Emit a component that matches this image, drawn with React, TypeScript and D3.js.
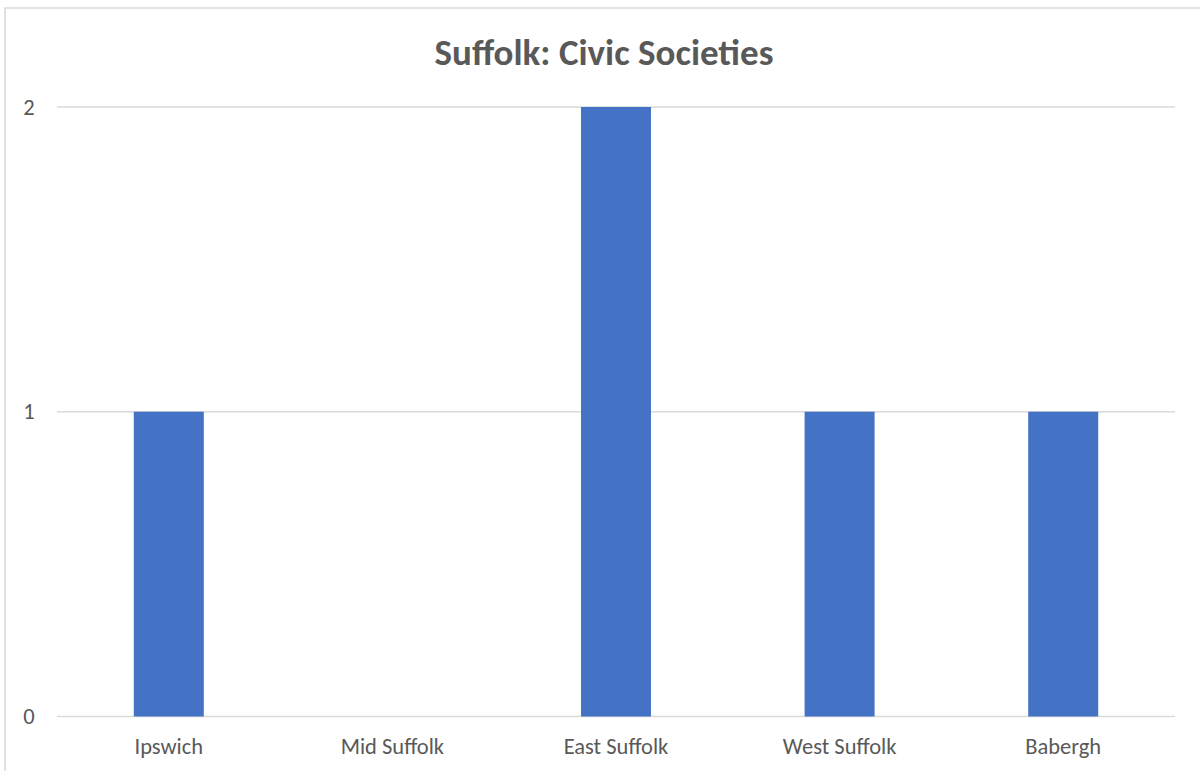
import React from 'react';
import * as d3 from 'd3';

const categories = ['Ipswich', 'Mid Suffolk', 'East Suffolk', 'West Suffolk', 'Babergh'];
const values = [1, 0, 2, 1, 1];
const yTicks = [0, 1, 2];
const title = 'Suffolk: Civic Societies';

export default function App() {
  const W = 1200, H = 771;
  const left = 57, right = 1175, top = 107, bottom = 716.5;
  const x = d3.scaleBand<string>().domain(categories).range([left, right]).padding(0);
  const y = d3.scaleLinear().domain([0, 2]).range([bottom, top]);
  const barW = x.bandwidth() * 0.313;
  const font = 'Carlito, Lato, sans-serif';
  return (
    <svg width={W} height={H} style={{ position: 'absolute', left: 0, top: 0, background: '#fff' }}>
      <rect x={5} y={8} width={W + 10} height={H + 10} fill="#fff" stroke="#d9d9d9" strokeWidth={1.5} />
      <text x={604} y={65} textAnchor="middle" fontFamily={font} fontWeight="bold" fontSize={37} fill="#595959">{title}</text>
      {yTicks.map(t => (
        <g key={t}>
          <line x1={left} x2={right} y1={y(t)} y2={y(t)} stroke="#d9d9d9" strokeWidth={1.5} />
          <text x={29} y={y(t) + 7.5} textAnchor="middle" fontFamily={font} fontSize={22.5} fill="#595959">{t}</text>
        </g>
      ))}
      {categories.map((c, i) => {
        const cx = (x(c) as number) + x.bandwidth() / 2;
        return (
          <g key={c}>
            {values[i] > 0 && (
              <rect x={cx - barW / 2} y={y(values[i])} width={barW} height={y(0) - y(values[i])} fill="#4472c4" />
            )}
            <text x={cx} y={754} textAnchor="middle" fontFamily={font} fontSize={22.5} fill="#595959">{c}</text>
          </g>
        );
      })}
    </svg>
  );
}
